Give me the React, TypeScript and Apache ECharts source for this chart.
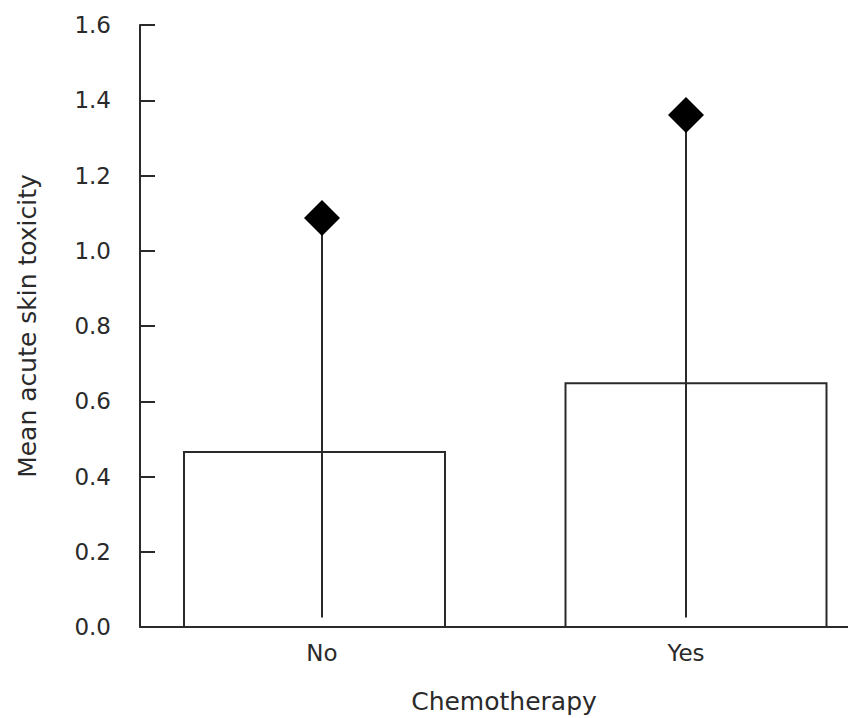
import React, { useEffect, useRef } from "react";
import * as echarts from "echarts";

const categories = ["No", "Yes"];
const meanValues = [0.465, 0.648];
const errorLow = [0.025, 0.025];
const errorHigh = [1.087, 1.361];
const yMin = 0;
const yMax = 1.6;
const yInterval = 0.2;

// style: bar shift (px) relative to the category centre, and bar width
const barShift = [-7.5, 10];
const barWidth = 261;
const ink = "#2a2a2a";
const font = "DejaVu Sans";

export default function App() {
  const ref = useRef<HTMLDivElement>(null);
  useEffect(() => {
    if (!ref.current) return;
    const chart = echarts.init(ref.current, null, { renderer: "svg" });
    chart.setOption({
      animation: false,
      backgroundColor: "#fff",
      grid: {
        left: 140,
        top: 25,
        width: 728,
        height: 602,
        containLabel: false,
        outerBoundsMode: "none",
      },
      xAxis: {
        type: "category",
        data: categories,
        boundaryGap: true,
        name: "Chemotherapy",
        nameLocation: "middle",
        nameGap: 62,
        nameTextStyle: { fontFamily: font, fontSize: 25, color: ink },
        axisLine: { lineStyle: { color: ink, width: 2 } },
        axisTick: { show: false },
        axisLabel: { fontFamily: font, fontSize: 23, color: ink, margin: 14 },
        splitLine: { show: false },
      },
      yAxis: {
        type: "value",
        min: yMin,
        max: yMax,
        interval: yInterval,
        name: "Mean acute skin toxicity",
        nameLocation: "middle",
        nameGap: 100,
        nameRotate: 90,
        nameTextStyle: { fontFamily: font, fontSize: 25, color: ink },
        axisLine: { show: true, lineStyle: { color: ink, width: 2 } },
        axisTick: { show: true, inside: true, length: 15, lineStyle: { color: ink, width: 2 } },
        axisLabel: {
          fontFamily: font,
          fontSize: 23,
          color: ink,
          margin: 29,
          formatter: (v: number) => v.toFixed(1),
        },
        splitLine: { show: false },
      },
      series: [
        {
          type: "custom",
          z: 2,
          data: categories.map((_, i) => [i, meanValues[i]]),
          renderItem: (params: any, api: any) => {
            const i = api.value(0);
            const v = api.value(1);
            const base = api.coord([i, 0]);
            const top = api.coord([i, v]);
            const cx = base[0] + barShift[params.dataIndex];
            return {
              type: "rect",
              shape: { x: cx - barWidth / 2, y: top[1], width: barWidth, height: base[1] - top[1] },
              style: { fill: "#fff", stroke: ink, lineWidth: 2 },
            };
          },
        },
        {
          type: "custom",
          z: 3,
          data: categories.map((_, i) => [i, errorLow[i], errorHigh[i]]),
          renderItem: (params: any, api: any) => {
            const i = api.value(0);
            const lo = api.coord([i, api.value(1)]);
            const hi = api.coord([i, api.value(2)]);
            return {
              type: "line",
              shape: { x1: lo[0], y1: lo[1], x2: hi[0], y2: hi[1] },
              style: { stroke: ink, lineWidth: 2 },
            };
          },
        },
        {
          type: "scatter",
          z: 4,
          symbol: "diamond",
          symbolSize: 36,
          itemStyle: { color: "#000", opacity: 1 },
          data: categories.map((_, i) => [i, errorHigh[i]]),
        },
      ],
    });
    return () => chart.dispose();
  }, []);
  return (
    <div
      ref={ref}
      style={{ position: "fixed", left: 0, top: 0, width: 848, height: 718 }}
    />
  );
}
